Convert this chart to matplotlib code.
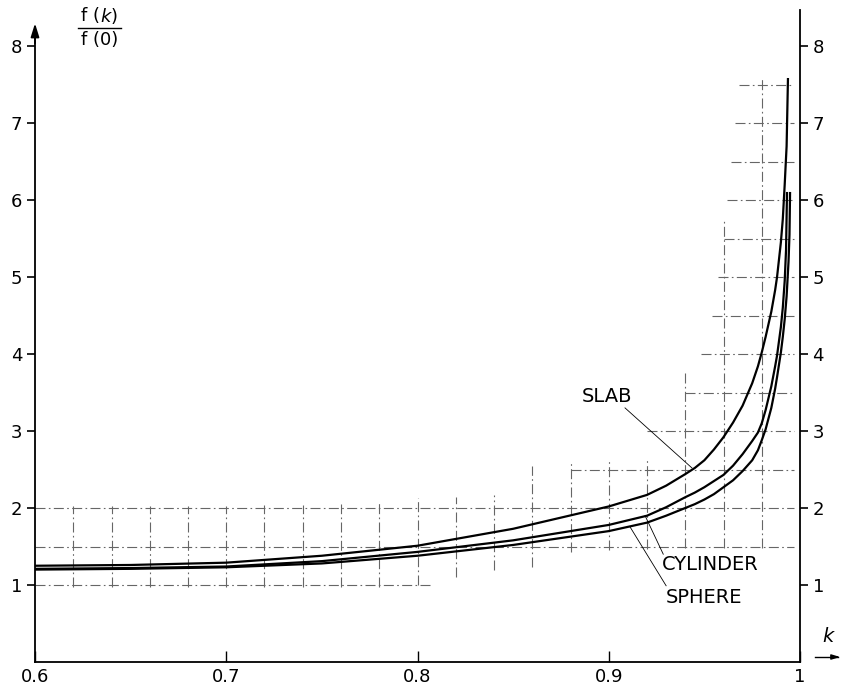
import numpy as np
import matplotlib.pyplot as plt

# multiplication factor k and normalised f(k)/f(0)
k_slab = [0.60, 0.65, 0.70, 0.75, 0.80, 0.85, 0.90, 0.92, 0.93, 0.94, 0.945,
          0.95, 0.955, 0.96, 0.965, 0.97, 0.975, 0.978, 0.98, 0.982, 0.985,
          0.987, 0.988, 0.990, 0.991, 0.992, 0.993, 0.9937]
f_slab = [1.25, 1.26, 1.29, 1.38, 1.51, 1.73, 2.02, 2.17, 2.29, 2.44, 2.52,
          2.62, 2.76, 2.92, 3.11, 3.33, 3.62, 3.84, 4.02, 4.22, 4.55,
          4.83, 5.00, 5.45, 5.75, 6.20, 6.70, 7.57]

k_cyl = [0.60, 0.65, 0.70, 0.75, 0.80, 0.85, 0.90, 0.92, 0.93, 0.94, 0.945,
         0.95, 0.955, 0.96, 0.965, 0.97, 0.975, 0.978, 0.98, 0.982, 0.985,
         0.987, 0.988, 0.990, 0.991, 0.992, 0.9927, 0.9932]
f_cyl = [1.21, 1.22, 1.24, 1.31, 1.43, 1.58, 1.78, 1.90, 2.01, 2.14, 2.20,
         2.27, 2.35, 2.43, 2.55, 2.70, 2.87, 2.98, 3.10, 3.27, 3.58,
         3.84, 3.98, 4.35, 4.60, 4.95, 5.35, 6.09]

k_sph = [0.60, 0.65, 0.70, 0.75, 0.80, 0.85, 0.90, 0.92, 0.93, 0.94, 0.945,
         0.95, 0.955, 0.96, 0.965, 0.97, 0.975, 0.978, 0.98, 0.982, 0.985,
         0.987, 0.988, 0.990, 0.991, 0.992, 0.993, 0.994, 0.9945, 0.9948]
f_sph = [1.20, 1.21, 1.23, 1.28, 1.38, 1.52, 1.70, 1.81, 1.90, 2.00, 2.05,
         2.11, 2.18, 2.27, 2.36, 2.48, 2.62, 2.75, 2.88, 3.02, 3.30,
         3.55, 3.70, 4.02, 4.22, 4.45, 4.75, 5.20, 5.55, 6.09]

x_ticks = [0.6, 0.7, 0.8, 0.9, 1.0]
x_labels = ['0.6', '0.7', '0.8', '0.9', '1']
y_ticks = [1, 2, 3, 4, 5, 6, 7, 8]

# background graph paper (stepped grid): (y, x_from, x_to) and (x, y_from, y_to)
grid_h = [(1.0, 0.60, 0.807), (1.5, 0.60, 0.997), (2.0, 0.60, 0.997),
          (2.5, 0.88, 0.997), (3.0, 0.92, 0.997), (3.5, 0.94, 0.997),
          (4.0, 0.948, 0.997), (4.5, 0.954, 0.997), (5.0, 0.957, 0.997),
          (5.5, 0.960, 0.997), (6.0, 0.962, 0.997), (6.5, 0.964, 0.997),
          (7.0, 0.966, 0.997), (7.5, 0.968, 0.997)]
grid_v = [(0.62, 0.97, 2.02), (0.64, 0.97, 2.02), (0.66, 0.97, 2.02),
          (0.68, 0.97, 2.02), (0.70, 0.97, 2.03), (0.72, 0.97, 2.04),
          (0.74, 0.97, 2.04), (0.76, 0.97, 2.05), (0.78, 0.97, 2.08),
          (0.80, 1.00, 2.13), (0.82, 1.10, 2.14), (0.84, 1.19, 2.17),
          (0.86, 1.23, 2.55), (0.88, 1.43, 2.58), (0.90, 1.45, 2.62),
          (0.92, 1.47, 2.64), (0.94, 1.48, 3.77), (0.96, 1.48, 5.77),
          (0.98, 1.48, 7.58)]

fig = plt.figure(figsize=(8.46, 6.87), dpi=100)
ax = fig.add_axes([35 / 846, 25 / 687, 765 / 846, 662 / 687])
ax.set_xlim(0.6, 1.0)
ax.set_ylim(0, 662 / 77)

dashdot = (0, (9, 3, 1.5, 3))
for y, x0, x1 in grid_h:
    ax.hlines(y, x0, x1, colors='0.4', lw=0.8, linestyles=[dashdot])
for x, y0, y1 in grid_v:
    ax.vlines(x, y0, y1, colors='0.4', lw=0.8, linestyles=[dashdot])

ax.plot(k_slab, f_slab, color='black', lw=1.6)
ax.plot(k_cyl, f_cyl, color='black', lw=1.6)
ax.plot(k_sph, f_sph, color='black', lw=1.6)

# curve labels with leader lines
ax.text(0.886, 3.45, 'SLAB', fontsize=14, ha='left', va='center')
ax.plot([0.9085, 0.9435], [3.30, 2.52], color='black', lw=0.6)
ax.text(0.928, 1.27, 'CYLINDER', fontsize=14, ha='left', va='center')
ax.plot([0.9285, 0.919], [1.40, 1.90], color='black', lw=0.6)
ax.text(0.930, 0.84, 'SPHERE', fontsize=14, ha='left', va='center')
ax.plot([0.930, 0.911], [0.99, 1.76], color='black', lw=0.6)

# axes
ax.spines['top'].set_visible(False)
ax.spines['left'].set_bounds(0, 8.2)
ax.spines['right'].set_bounds(0, 8.47)
for s in ax.spines.values():
    s.set_linewidth(1.3)
ax.annotate('', xy=(0.6, 8.33), xytext=(0.6, 8.0),
            arrowprops=dict(arrowstyle='-|>,head_width=0.25,head_length=0.8',
                            color='black', lw=1.3), annotation_clip=False)

ax.set_xticks(x_ticks)
ax.set_xticklabels(x_labels)
ax.set_yticks(y_ticks)
ax.tick_params(axis='x', direction='in', length=8, width=1, labelsize=13, pad=4)
ax.tick_params(axis='y', direction='out', length=6, width=1.2, labelsize=13,
               right=True, labelright=True, pad=3)

# y label as a fraction at the top left
fig.text(100 / 846, 1 - 16 / 687, 'f (', fontsize=13, ha='right', va='center')
fig.text(100 / 846, 1 - 16 / 687, r'$\mathit{k}$)', fontsize=13, ha='left', va='center')
fig.text(100 / 846, 1 - 40 / 687, 'f (0)', fontsize=13, ha='center', va='center')
fig.add_artist(plt.Line2D([78 / 846, 121 / 846], [1 - 28 / 687, 1 - 28 / 687],
                          color='black', lw=1.0))

# x label with arrow at bottom right
fig.text(829 / 846, 1 - 636 / 687, r'$\mathit{k}$', fontsize=14, ha='center', va='center')
fig.add_artist(plt.Line2D([815 / 846, 838 / 846], [1 - 657 / 687, 1 - 657 / 687],
                          color='black', lw=1.0))
ax.annotate('', xy=(843 / 846, 1 - 657 / 687), xytext=(830 / 846, 1 - 657 / 687),
            xycoords='figure fraction', textcoords='figure fraction',
            arrowprops=dict(arrowstyle='-|>,head_width=0.15,head_length=0.5',
                            color='black', lw=1.0))

fig.savefig('out.png', dpi=100)
